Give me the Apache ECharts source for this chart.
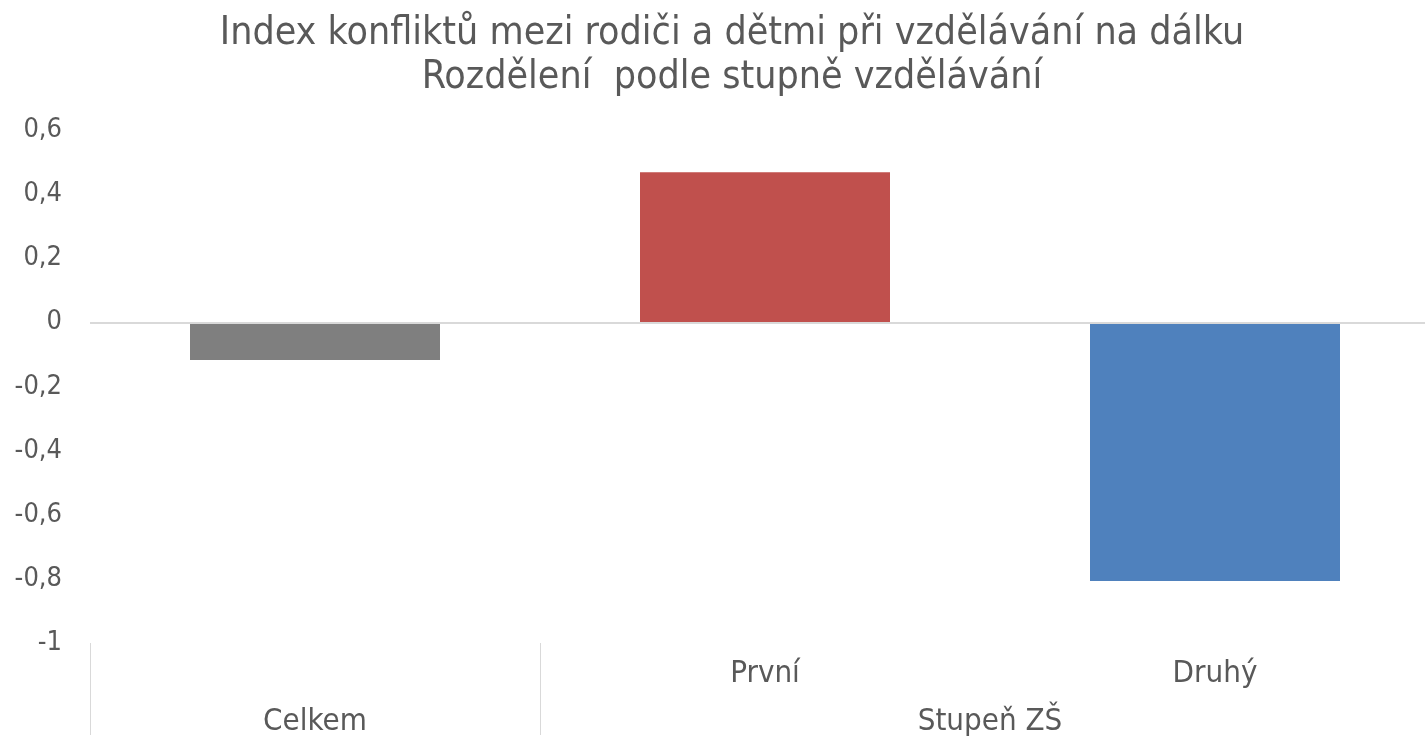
<!DOCTYPE html>
<html><head><meta charset="utf-8">
<script src="https://cdn.jsdelivr.net/npm/echarts@6/dist/echarts.min.js"></script>
<style>html,body{margin:0;padding:0;background:#fff;overflow:hidden}#c{width:1440px;height:737px}</style>
</head><body><div id="c"></div>
<script>
const titleLines = ['Index konfliktů mezi rodiči a dětmi při vzdělávání na dálku', 'Rozdělení  podle stupně vzdělávání'];
const categories = ['Celkem', 'První', 'Druhý'];
const innerLabels = ['', 'První', 'Druhý'];
const groupLabels = ['Celkem', 'Stupeň ZŠ'];
const groupCenters = [0.5, 2];
const groupBounds = [0, 1];
const values = [-0.117, 0.468, -0.807];
const colors = ['#7f7f7f', '#c0504d', '#4f81bd'];
const yMin = -1, yMax = 0.6, yStep = 0.2;

const FONT = '"DejaVu Sans Condensed", "DejaVu Sans", sans-serif';
const chart = echarts.init(document.getElementById('c'), null, {renderer: 'canvas'});
chart.setOption({
  animation: false,
  backgroundColor: '#fff',
  title: {
    text: titleLines.join('\n'), left: 727, textAlign: 'center', top: 7,
    textStyle: {fontFamily: FONT, fontSize: 39, fontWeight: 'normal', color: '#595959', lineHeight: 44}
  },
  grid: {left: 90, top: 130, right: 0, bottom: 92, containLabel: false},
  xAxis: [{
    type: 'category', data: categories, position: 'bottom',
    axisLine: {show: false, onZero: false}, axisTick: {show: false}, splitLine: {show: false},
    axisLabel: {margin: 15, fontFamily: FONT, fontSize: 31, color: '#595959',
      formatter: (v, i) => innerLabels[i]}
  }, {
    type: 'value', min: 0, max: 3, position: 'bottom',
    axisLine: {show: false, onZero: false}, splitLine: {show: false},
    axisTick: {show: true, customValues: groupBounds, length: 92, lineStyle: {color: '#d9d9d9', width: 1}},
    axisLabel: {customValues: groupCenters, margin: 63, fontFamily: FONT, fontSize: 31, color: '#595959',
      formatter: v => groupLabels[groupCenters.indexOf(v)]}
  }],
  yAxis: {
    type: 'value', min: yMin, max: yMax, interval: yStep,
    axisLine: {show: false}, axisTick: {show: false}, splitLine: {show: false},
    axisLabel: {margin: 28, fontFamily: FONT, fontSize: 27, color: '#595959',
      formatter: v => String(Math.round(v * 10) / 10).replace('.', ',')}
  },
  series: [{
    type: 'bar', xAxisIndex: 0, barWidth: 250,
    data: values.map((v, i) => ({value: v, itemStyle: {color: colors[i]}})),
    markLine: {silent: true, symbol: 'none', label: {show: false},
      lineStyle: {color: '#d9d9d9', width: 2, type: 'solid'},
      data: [{yAxis: 0}]}
  }]
});
</script></body></html>
